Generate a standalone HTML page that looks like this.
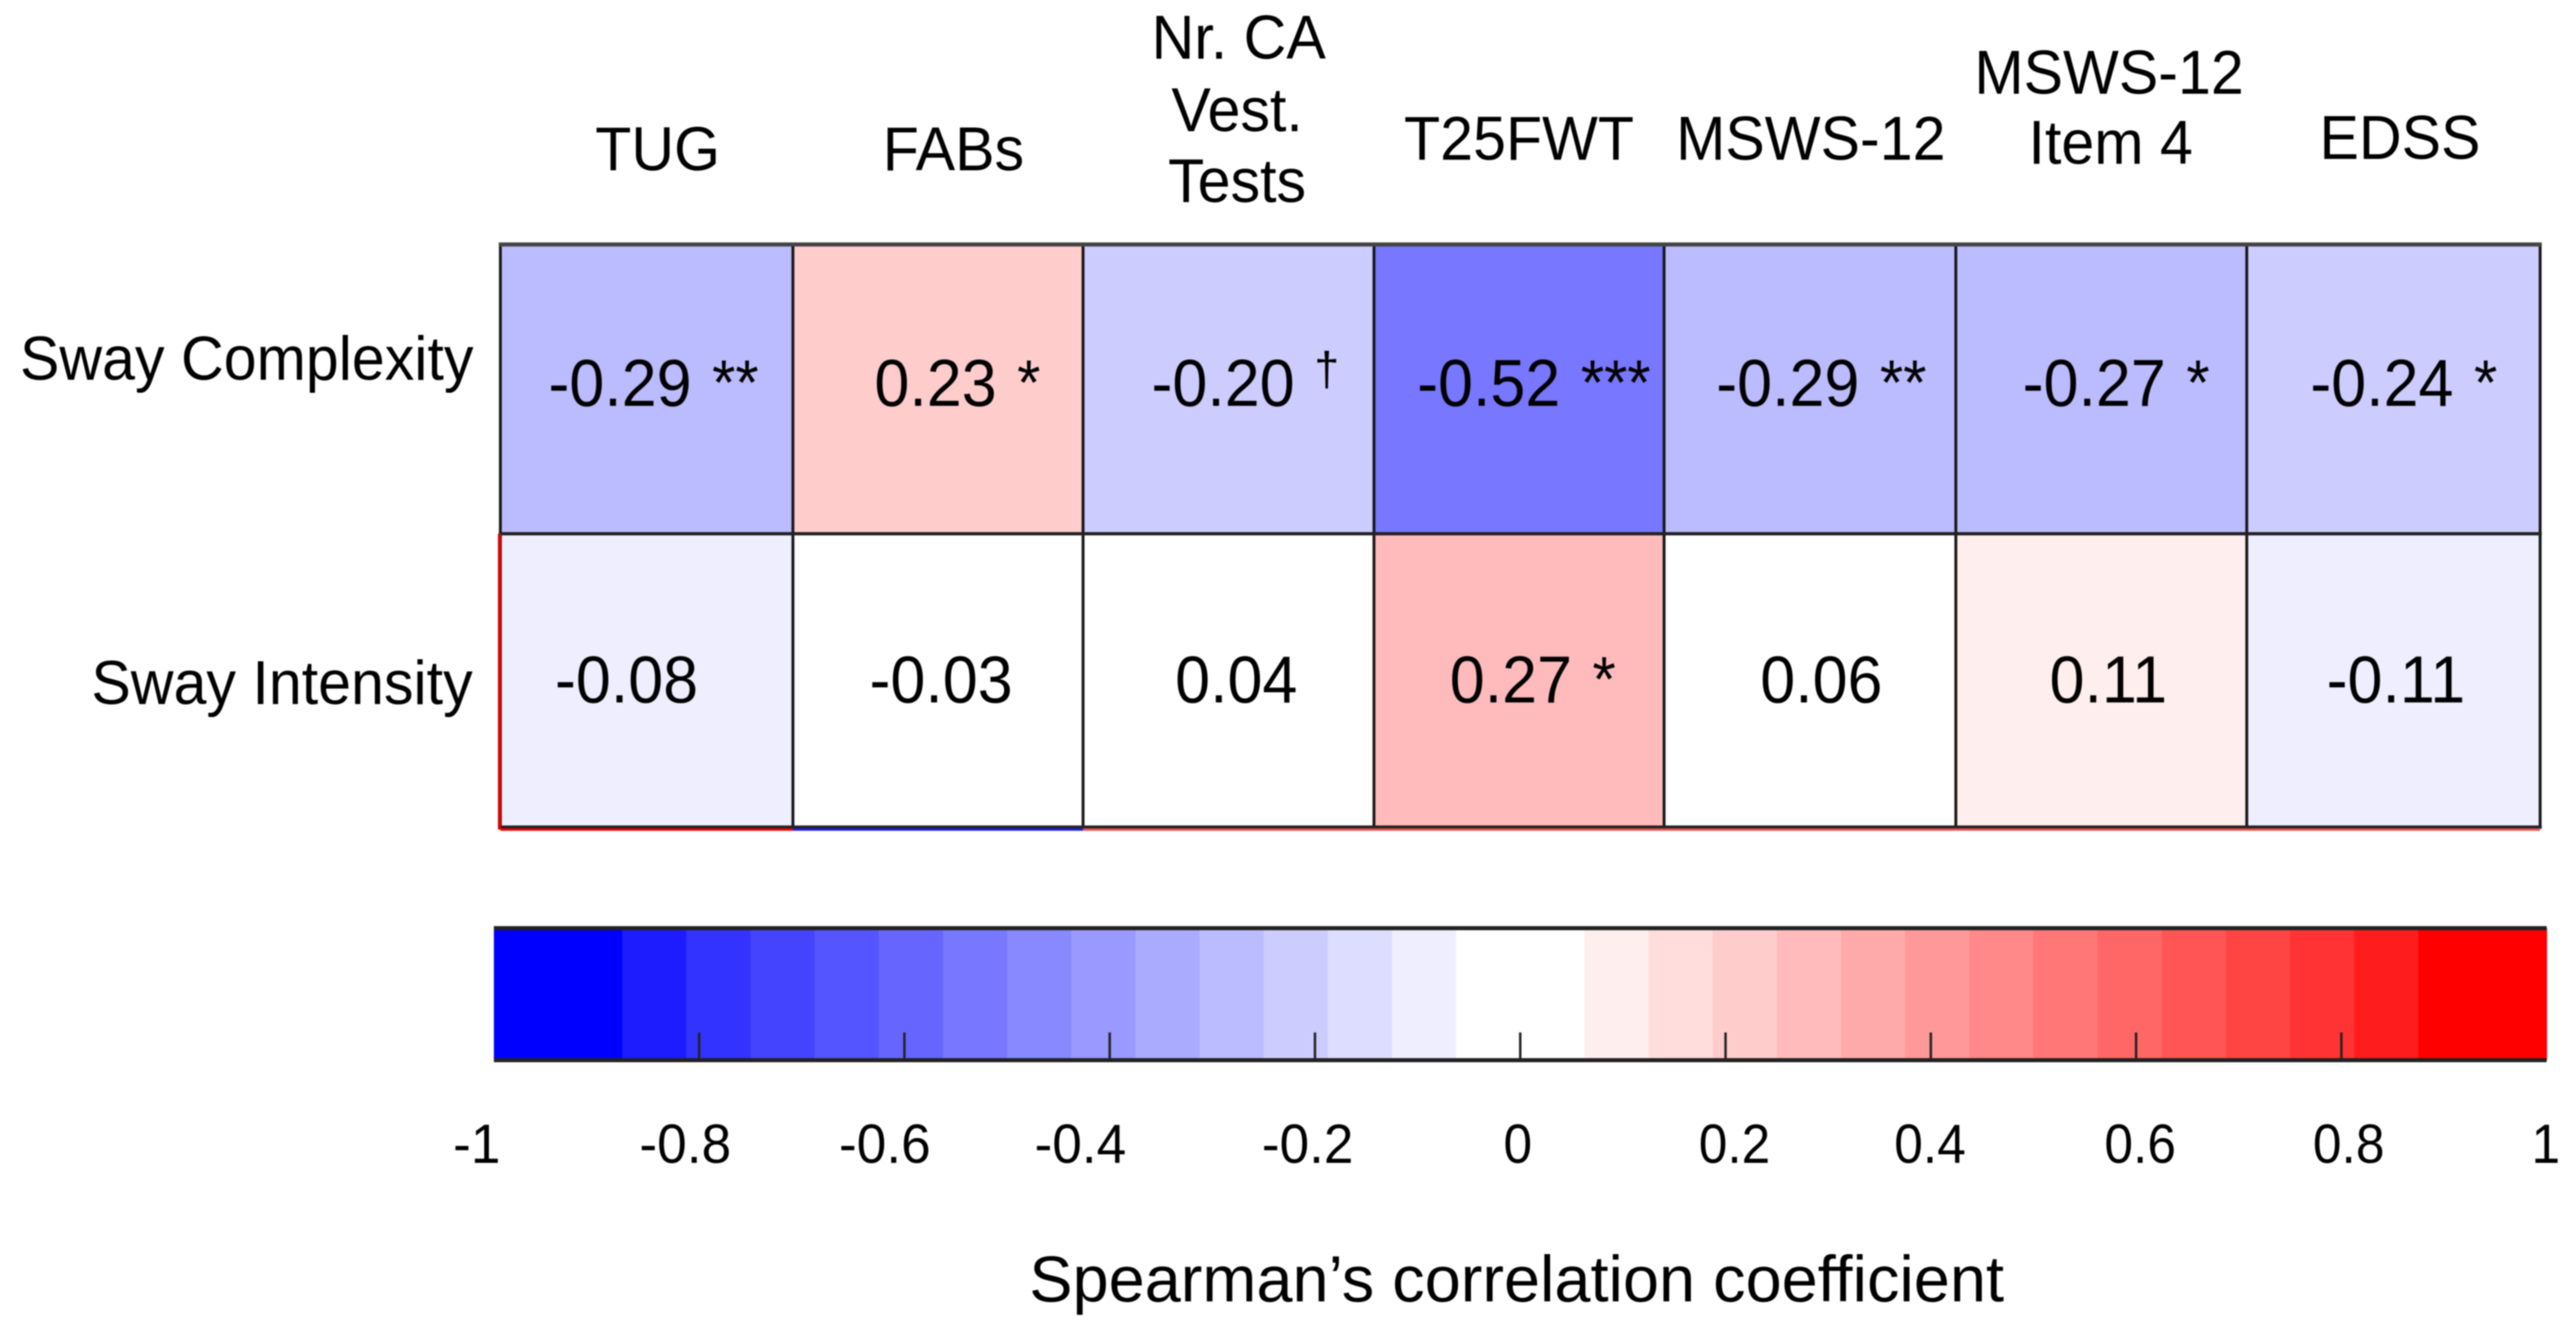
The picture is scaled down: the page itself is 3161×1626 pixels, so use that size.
<!DOCTYPE html>
<html lang="en">
<head>
<meta charset="utf-8">
<title>Spearman correlation heatmap</title>
<style>
html,body{margin:0;padding:0;background:#fff;width:3161px;height:1626px;overflow:hidden}
svg{display:block;filter:blur(0.9px)}
text{font-family:"Liberation Sans",sans-serif;fill:#000}
</style>
</head>
<body>
<svg id="chart" xmlns="http://www.w3.org/2000/svg" width="3161" height="1626" viewBox="0 0 3161 1626">
  <rect x="0" y="0" width="3161" height="1626" fill="#fff"/>
  <g id="cells"></g>
  <g id="grid"></g>
  <g id="values"></g>
  <g font-size="76" text-anchor="middle">
    <text transform="translate(807,209) scale(.955,1)">TUG</text>
    <text transform="translate(1170,209) scale(.955,1)">FABs</text>
    <text transform="translate(1520,72) scale(.955,1)">Nr. CA</text>
    <text transform="translate(1518,161) scale(.955,1)">Vest.</text>
    <text transform="translate(1518,248) scale(.955,1)">Tests</text>
    <text transform="translate(1864,196) scale(.955,1)">T25FWT</text>
    <text transform="translate(2222,196) scale(.955,1)">MSWS-12</text>
    <text transform="translate(2588,115) scale(.955,1)">MSWS-12</text>
    <text transform="translate(2590,201) scale(.955,1)">Item 4</text>
    <text transform="translate(2945,195) scale(.955,1)">EDSS</text>
  </g>
  <g font-size="76" text-anchor="end">
    <text transform="translate(581,466) scale(.955,1)">Sway Complexity</text>
    <text transform="translate(580,864) scale(.955,1)">Sway Intensity</text>
  </g>
  <g id="colorbar"></g>
  <g id="ticklabels" font-size="68" text-anchor="middle"></g>
  <text font-size="80" transform="translate(1263,1597) scale(.995,1)">Spearman’s correlation coefficient</text>
</svg>
<script>
// ---- chart data ----
var columns = ["TUG", "FABs", "Nr. CA Vest. Tests", "T25FWT", "MSWS-12", "MSWS-12 Item 4", "EDSS"];
var rows = ["Sway Complexity", "Sway Intensity"];
var swayComplexity = [-0.29, 0.23, -0.20, -0.52, -0.29, -0.27, -0.24];
var swayIntensity = [-0.08, -0.03, 0.04, 0.27, 0.06, 0.11, -0.11];
var complexityMarks = ["**", "*", "†", "***", "**", "*", "*"];
var intensityMarks = ["", "", "", "*", "", "", ""];
var colorbarTicks = [-1, -0.8, -0.6, -0.4, -0.2, 0, 0.2, 0.4, 0.6, 0.8, 1];
var colorLevels = 32;

// ---- layout (pixels, not data) ----
var gridX = [614, 973, 1329, 1686, 2042, 2400, 2757, 3117];
var gridY = [300, 655, 1015];
var labelInset = [[59, 100, 84, 53, 64, 82, 78], [67, 94, 113, 93, 118, 115, 98]];
var rowBaseline = [498, 862];
var tickNudge = [-21, -17, -24, -36, -9, -3, 11, -1, 5, 9, -1];

var NS = "http://www.w3.org/2000/svg";
function make(tag, parent, attrs) {
  var el = document.createElementNS(NS, tag);
  for (var k in attrs) el.setAttribute(k, attrs[k]);
  parent.appendChild(el);
  return el;
}
// colour scale: 16 steps per side of zero
function channel(v) {
  var n = Math.min(15, Math.floor(Math.abs(v) / 0.0625));
  return 255 - 17 * n;
}
function color(v) {
  var c = channel(v);
  return v < 0 ? "rgb(" + c + "," + c + ",255)" : "rgb(255," + c + "," + c + ")";
}
function rampColor(v) {
  var n = Math.min(15, Math.floor(Math.abs(v) / 0.0625));
  var c = n >= 14 ? 0 : (n === 13 ? 28 : 255 - 17 * n);
  return v < 0 ? "rgb(" + c + "," + c + ",255)" : "rgb(255," + c + "," + c + ")";
}

// heatmap
var cellsG = document.getElementById("cells");
var valuesG = document.getElementById("values");
var seriesValues = [swayComplexity, swayIntensity];
var seriesMarks = [complexityMarks, intensityMarks];
seriesValues.forEach(function (vals, r) {
  vals.forEach(function (v, c) {
    var rect = make("rect", cellsG, {
      x: gridX[c], y: gridY[r], width: gridX[c + 1] - gridX[c], height: gridY[r + 1] - gridY[r], fill: color(v)
    });
    
    
    var mark = seriesMarks[r][c];
    var t = make("text", valuesG, {
      "font-size": 82,
      transform: "translate(" + (gridX[c] + labelInset[r][c]) + "," + rowBaseline[r] + ") scale(.94,1)"
    });
    t.textContent = v.toFixed(2) + (mark ? " " : "");
    if (mark) {
      var isDagger = mark === "†";
      var m = make("tspan", t, isDagger
        ? { "font-size": 58, dy: -25, dx: 3 }
        : { "font-size": 78, dy: -2, dx: 4 });
      m.textContent = mark;
    }
    
    
  });
});

// grid lines
var gridG = document.getElementById("grid");
gridX.forEach(function (x) {
  var l = make("line", gridG, { x1: x, x2: x, y1: gridY[0], y2: gridY[2] + 1, stroke: "#161616", "stroke-width": 3.5 });
  
  
});
gridY.forEach(function (y, i) {
  var l = make("line", gridG, { x1: gridX[0] - 2, x2: gridX[7] + 2, y1: y, y2: y, stroke: i === 0 ? "#444" : "#222", "stroke-width": i === 0 ? 5 : 4 });
  
  
});
var edgeColors = ["#f00000", "#2020e0", "#e85050", "#e85050", "#e85050", "#e85050", "#e85050"];
edgeColors.forEach(function (col, i) {
  var l = make("line", gridG, { x1: gridX[i], x2: gridX[i + 1], y1: gridY[2] + 3, y2: gridY[2] + 3, stroke: col, "stroke-width": 3 });
  
  
});
var leftEdge = make("line", gridG, { x1: gridX[0] - 1, x2: gridX[0] - 1, y1: gridY[1], y2: gridY[2] + 3, stroke: "#e00000", "stroke-width": 4 });



// colorbar
var barG = document.getElementById("colorbar");
var barLeft = 606, barRight = 3125, barTop = 1139, barBottom = 1301;
function barX(v) { return barLeft + (v + 1) / 2 * (barRight - barLeft); }
for (var i = 0; i < colorLevels; i++) {
  var lo = -1 + 2 * i / colorLevels, hi = lo + 2 / colorLevels;
  var band = make("rect", barG, {
    x: barX(lo), y: barTop, width: barX(hi) - barX(lo) + 0.5, height: barBottom - barTop, fill: rampColor((lo + hi) / 2)
  });
  
  
}
[barTop, barBottom].forEach(function (y) {
  var l = make("line", barG, { x1: barLeft, x2: barRight, y1: y, y2: y, stroke: "#222", "stroke-width": 5 });
  
  
});
var tickLabelG = document.getElementById("ticklabels");
colorbarTicks.forEach(function (v, i) {
  if (i > 0 && i < colorbarTicks.length - 1) {
    var tick = make("line", barG, { x1: barX(v), x2: barX(v), y1: 1267, y2: barBottom, stroke: "#222", "stroke-width": 3 });
    
    
  }
  var t = make("text", tickLabelG, {
    transform: "translate(" + (barX(v) + tickNudge[i]) + ",1427) scale(" + (v < 0 ? .96 : .93) + ",1)"
  });
  t.textContent = String(v);
  
  
});
</script>
</body>
</html>
